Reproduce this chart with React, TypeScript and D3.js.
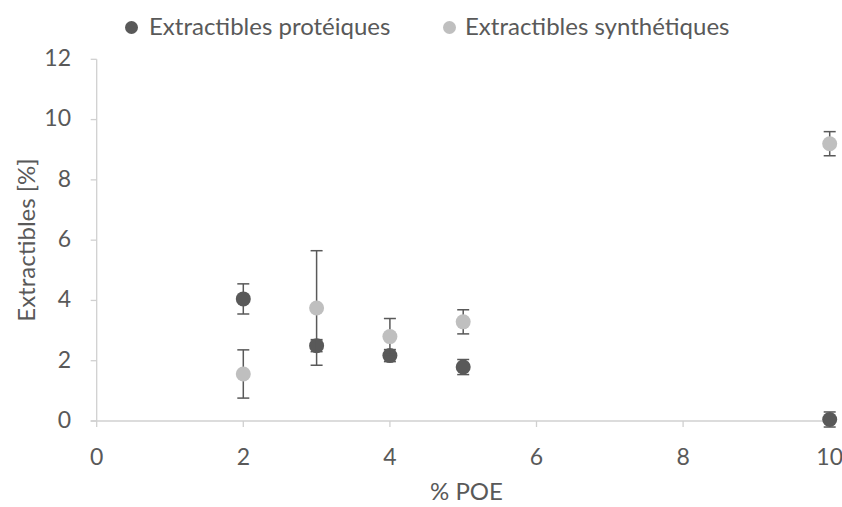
import React from "react";
import * as d3 from "d3";

const xValues = [2, 3, 4, 5, 10];
const proteiques = [4.05, 2.5, 2.17, 1.79, 0.05];
const proteiquesErr = [0.5, 0.2, 0.2, 0.25, 0.25];
const synthetiques = [1.56, 3.75, 2.8, 3.29, 9.2];
const synthetiquesErr = [0.8, 1.9, 0.6, 0.4, 0.4];
const xTicks = [0, 2, 4, 6, 8, 10];
const yTicks = [0, 2, 4, 6, 8, 10, 12];
const seriesNames = ["Extractibles protéiques", "Extractibles synthétiques"];

const W = 842;
const H = 507;
const DARK = "#595959";
const LIGHT = "#bfbfbf";
const TEXT = "#595959";
const AXIS = "#d0d0d0";
const FONT = "Lato, sans-serif";
const FS = 24;
const FS_TICK = 23;

export default function App() {
  const x = d3.scaleLinear().domain([0, 10]).range([96.7, 829.7]);
  const y = d3.scaleLinear().domain([0, 12]).range([421, 59.3]);

  const series = [
    { vals: proteiques, errs: proteiquesErr, color: DARK },
    { vals: synthetiques, errs: synthetiquesErr, color: LIGHT },
  ];

  return (
    <svg width={W} height={H} style={{ position: "absolute", left: 0, top: 0, background: "#fff" }}>
      <rect width={W} height={H} fill="#fff" />
      {/* Axes */}
      <line x1={x(0)} x2={x(0)} y1={y(12)} y2={y(0)} stroke={AXIS} strokeWidth={1.3} />
      <line x1={x(0) - 6} x2={x(10) + 4} y1={y(0)} y2={y(0)} stroke={AXIS} strokeWidth={1.3} />
      {yTicks.map((t) => (
        <g key={"y" + t}>
          <line x1={x(0) - 6} x2={x(0)} y1={y(t)} y2={y(t)} stroke={AXIS} strokeWidth={1.3} />
          <text x={71} y={y(t)} dy="0.3em" textAnchor="end" fontFamily={FONT} fontSize={FS_TICK} fill={TEXT}>
            {t}
          </text>
        </g>
      ))}
      {xTicks.map((t) => (
        <g key={"x" + t}>
          <line x1={x(t)} x2={x(t)} y1={y(0)} y2={y(0) + 6} stroke={AXIS} strokeWidth={1.3} />
          <text x={x(t)} y={465} textAnchor="middle" fontFamily={FONT} fontSize={FS_TICK} fill={TEXT}>
            {t}
          </text>
        </g>
      ))}
      {/* Error bars & points */}
      {series.map((s, si) => (
        <g key={"s" + si}>
          {xValues.map((xv, i) => {
            const cx = x(xv);
            const lo = y(s.vals[i] - s.errs[i]);
            const hi = y(s.vals[i] + s.errs[i]);
            return (
              <g key={i}>
                <line x1={cx} x2={cx} y1={lo} y2={hi} stroke={DARK} strokeWidth={1.5} />
                <line x1={cx - 6} x2={cx + 6} y1={lo} y2={lo} stroke={DARK} strokeWidth={1.5} />
                <line x1={cx - 6} x2={cx + 6} y1={hi} y2={hi} stroke={DARK} strokeWidth={1.5} />
              </g>
            );
          })}
          {xValues.map((xv, i) => (
            <circle key={"c" + i} cx={x(xv)} cy={y(s.vals[i])} r={7.5} fill={s.color} />
          ))}
        </g>
      ))}
      {/* Legend */}
      <circle cx={131.5} cy={27.5} r={6.5} fill={DARK} />
      <text x={149} y={35} fontFamily={FONT} fontSize={FS} fill={TEXT}>
        {seriesNames[0]}
      </text>
      <circle cx={449.5} cy={27.5} r={6.5} fill={LIGHT} />
      <text x={465} y={35} fontFamily={FONT} fontSize={FS} fill={TEXT}>
        {seriesNames[1]}
      </text>
      {/* Axis titles */}
      <text x={466.5} y={500} textAnchor="middle" fontFamily={FONT} fontSize={FS} fill={TEXT}>
        % POE
      </text>
      <text
        transform={`translate(35,240) rotate(-90)`}
        textAnchor="middle"
        fontFamily={FONT}
        fontSize={FS}
        fill={TEXT}
      >
        Extractibles [%]
      </text>
    </svg>
  );
}
